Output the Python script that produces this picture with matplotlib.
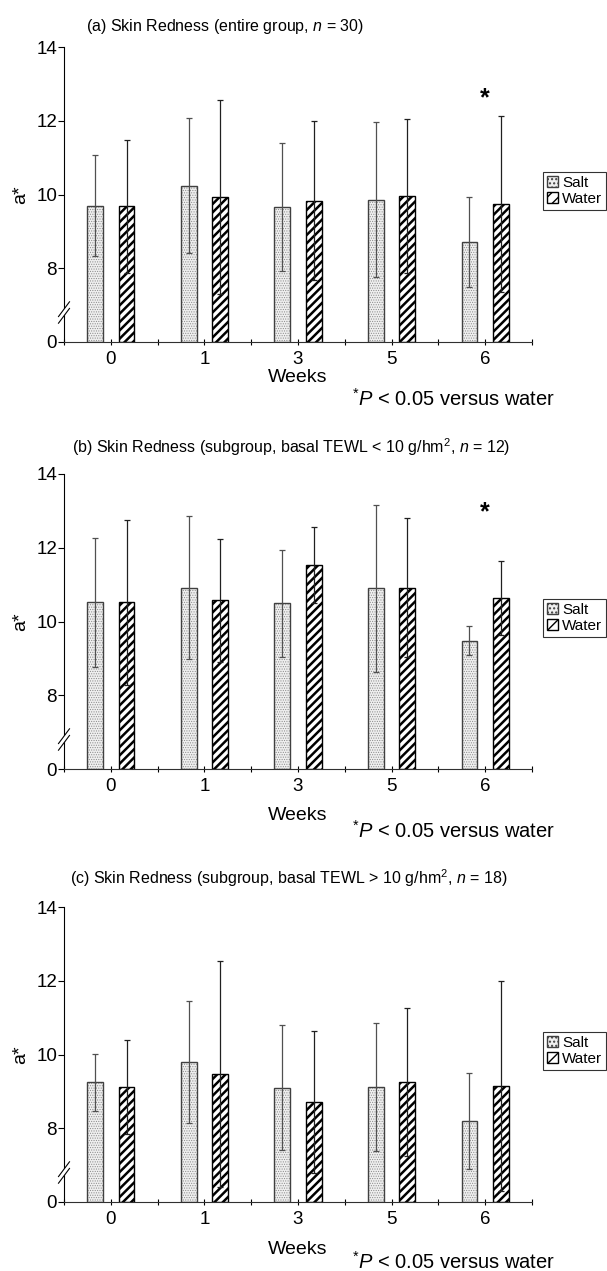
import numpy as np
import matplotlib.pyplot as plt
from matplotlib.patches import Polygon

plt.rcParams['font.family'] = ['Liberation Sans', 'DejaVu Sans']
plt.rcParams['mathtext.fontset'] = 'custom'
plt.rcParams['mathtext.rm'] = 'Liberation Sans'
plt.rcParams['mathtext.it'] = 'Liberation Sans:italic'

# Data (a* values, mean and SD)
weeks = ['0', '1', '3', '5', '6']
titles = [r'(a) Skin Redness (entire group, $n$ = 30)',
          r'(b) Skin Redness (subgroup, basal TEWL < 10 g/hm$^{2}$, $n$ = 12)',
          r'(c) Skin Redness (subgroup, basal TEWL > 10 g/hm$^{2}$, $n$ = 18)']

salt_a = [9.70, 10.24, 9.66, 9.86, 8.71]
salt_a_sd = [1.37, 1.83, 1.74, 2.10, 1.21]
water_a = [9.68, 9.93, 9.83, 9.95, 9.74]
water_a_sd = [1.80, 2.64, 2.15, 2.09, 2.39]

salt_b = [10.52, 10.92, 10.49, 10.90, 9.48]
salt_b_sd = [1.75, 1.95, 1.45, 2.26, 0.40]
water_b = [10.52, 10.57, 11.54, 10.92, 10.63]
water_b_sd = [2.24, 1.68, 1.03, 1.89, 1.00]

salt_c = [9.25, 9.80, 9.10, 9.12, 8.20]
salt_c_sd = [0.77, 1.65, 1.70, 1.73, 1.30]
water_c = [9.12, 9.47, 8.72, 9.25, 9.15]
water_c_sd = [1.28, 3.07, 1.93, 2.00, 2.85]

star_week = 4
ticks_y = [6, 8, 10, 12, 14]
tick_labels_y = ['0', '8', '10', '12', '14']

# layout in pixels (figure 607 x 1271)
W, H = 607, 1271
panels = [
    dict(salt=salt_a, ssd=salt_a_sd, water=water_a, wsd=water_a_sd, bottom=342,
         title_xy=(86, 26), weeks_y=378, note_y=399, star=12.6),
    dict(salt=salt_b, ssd=salt_b_sd, water=water_b, wsd=water_b_sd, bottom=769,
         title_xy=(72, 447), weeks_y=816, note_y=831, star=12.95),
    dict(salt=salt_c, ssd=salt_c_sd, water=water_c, wsd=water_c_sd, bottom=1202,
         title_xy=(70, 878), weeks_y=1249, note_y=1262, star=None),
]

fig = plt.figure(figsize=(W / 100, H / 100), dpi=100)
x = np.arange(len(weeks))
bw = 0.17
off = 0.168

for i, p in enumerate(panels):
    ax = fig.add_axes([64 / W, 1 - p['bottom'] / H, 468 / W, 295 / H])
    ax.set_xlim(-0.5, 4.5)
    ax.set_ylim(6, 14)
    base = 6
    s = np.array(p['salt'])
    w = np.array(p['water'])

    # salt bars: fine stipple
    with plt.rc_context({'hatch.linewidth': 0.5}):
        ax.bar(x - off, s - base, bw, bottom=base, color='#efefef', edgecolor='#8c8c8c',
               hatch='.......', linewidth=0, zorder=2)
    ax.bar(x - off, s - base, bw, bottom=base, fill=False, edgecolor='#404040',
           linewidth=1.0, zorder=3)
    # water bars: thick diagonal stripes
    with plt.rc_context({'hatch.linewidth': 1.8}):
        ax.bar(x + off, w - base, bw, bottom=base, color='white', edgecolor='black',
               hatch='////', linewidth=0, zorder=2)
    ax.bar(x + off, w - base, bw, bottom=base, fill=False, edgecolor='black',
           linewidth=1.0, zorder=3)

    ax.errorbar(x - off, s, yerr=p['ssd'], fmt='none', ecolor='#505050',
                elinewidth=0.9, capsize=2, capthick=0.9, zorder=4)
    ax.errorbar(x + off, w, yerr=p['wsd'], fmt='none', ecolor='#202020',
                elinewidth=0.9, capsize=2, capthick=0.9, zorder=4)

    for sp in ['top', 'right']:
        ax.spines[sp].set_visible(False)
    ax.spines['left'].set_color('black')
    ax.spines['bottom'].set_color('#303030')

    ax.set_yticks(ticks_y)
    ax.set_yticklabels(tick_labels_y, fontsize=13.5)
    ax.set_xticks(x)
    ax.set_xticklabels(weeks, fontsize=13.5)
    ax.set_xticks(np.arange(-0.5, 5, 1.0), minor=True)
    ax.tick_params(axis='y', direction='out', length=4, width=0.8, pad=1)
    ax.tick_params(axis='x', which='both', direction='inout', length=5, width=0.8, pad=4)

    # axis break on y
    tr = ax.get_yaxis_transform()
    dx, dy = 5.5 / 468, 0.2
    yc = 6.8
    gap = 0.09
    poly = Polygon([(-dx, yc - gap - dy), (dx, yc - gap + dy), (dx, yc + gap + dy), (-dx, yc + gap - dy)],
                   closed=True, transform=tr, facecolor='white', edgecolor='none',
                   clip_on=False, zorder=5)
    ax.add_patch(poly)
    for g in (-gap, gap):
        ax.plot([-dx, dx], [yc + g - dy, yc + g + dy], transform=tr, color='black',
                lw=0.8, clip_on=False, zorder=6)

    if p['star'] is not None:
        ax.text(star_week, p['star'], '*', fontsize=18, fontweight='bold',
                ha='center', va='center')

    ax.set_ylabel('a*', fontsize=14)
    ax.yaxis.set_label_coords(-0.075, 0.5)

    fig.text(p['title_xy'][0] / W, 1 - p['title_xy'][1] / H, titles[i], fontsize=11.5,
             ha='left', va='center')
    fig.text(298 / W, 1 - p['weeks_y'] / H, 'Weeks', fontsize=14, ha='center', va='center')
    fig.text(352 / W, 1 - p['note_y'] / H, r'$^{*}\mathit{P}$ < 0.05 versus water',
             fontsize=14.5, ha='left', va='center')

    # legend
    with plt.rc_context({'hatch.linewidth': 1.0}):
        hs = [plt.Rectangle((0, 0), 1, 1, facecolor='#efefef', edgecolor='#404040', hatch='....'),
              plt.Rectangle((0, 0), 1, 1, facecolor='white', edgecolor='black', hatch='///')]
    leg = ax.legend(hs, ['Salt', 'Water'], loc='upper left',
                    bbox_to_anchor=(543 / W, 1 - (p['bottom'] - 170) / H),
                    bbox_transform=fig.transFigure, fontsize=11, frameon=True,
                    fancybox=False, handlelength=0.7, handleheight=0.7,
                    handletextpad=0.3, borderpad=0.25, labelspacing=0.15,
                    borderaxespad=0)
    leg.get_frame().set_edgecolor('black')
    leg.get_frame().set_linewidth(0.8)

fig.savefig('out.png', dpi=100)
